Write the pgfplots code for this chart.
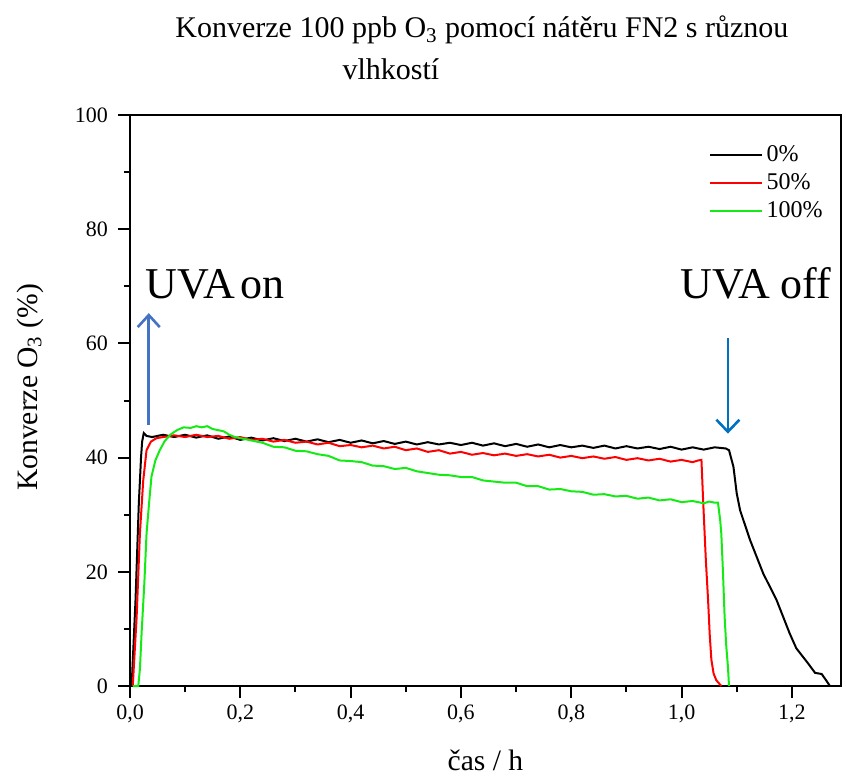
\documentclass[border=0pt]{standalone}
\usepackage{fontspec}
\setmainfont{Liberation Serif}
\usepackage{pgfplots}
\pgfplotsset{compat=1.18}
\usetikzlibrary{arrows.meta}
\definecolor{arrowA}{HTML}{4472C4}
\definecolor{arrowB}{HTML}{0070C0}
\definecolor{lgreen}{RGB}{20,235,20}

\begin{document}
\begin{tikzpicture}
\begin{axis}[
  name=ax,
  scale only axis,
  width=355.5pt,height=285.5pt,
  xmin=0,xmax=1.289,ymin=0,ymax=100,
  xtick={0,0.2,...,1.2},ytick={0,20,...,100},
  minor x tick num=1,minor y tick num=1,
  xtick pos=bottom,ytick pos=left,
  tick align=outside,
  major tick length=6pt,minor tick length=3pt,
  every tick/.style={black,line width=1pt},
  axis line style={line width=1pt},
  /pgf/number format/assume math mode=true,
  xticklabel style={/pgf/number format/.cd,use comma,fixed,fixed zerofill,precision=1},
  yticklabel style={xshift=-1.5pt},
  tick label style={font=\fontsize{11}{13}\selectfont},
  xlabel={čas / h},
  ylabel={Konverze O\textsubscript{3} (\%)},
  label style={font=\fontsize{14.8}{16}\selectfont},
  xlabel style={at={(rel axis cs:0.5,-0.148)},anchor=base},
  ylabel style={at={(rel axis cs:-0.1406,0.523)},anchor=center},
  clip=false,
  legend style={draw=none,fill=none,at={(rel axis cs:0.805,0.962)},anchor=north west,
    font=\fontsize{12}{13}\selectfont,row sep=0.6pt},
  legend cell align=left,
  legend image code/.code={\draw[#1] (0cm,0cm) -- (0.91cm,0cm);},
  every axis plot/.append style={line width=1pt}
]
% 0 %
\addplot[black] coordinates {
(0.003,0) (0.010,15) (0.016,32) (0.020,40) (0.022,42.8) (0.025,44.3) (0.030,43.8)
(0.04,43.6) (0.06,44.0) (0.08,43.6) (0.10,44.0) (0.12,43.5) (0.14,43.9) (0.16,43.3)
(0.18,43.7) (0.20,43.1) (0.22,43.5) (0.24,43.0) (0.26,43.4) (0.28,42.9) (0.30,43.3)
(0.32,42.8) (0.34,43.2) (0.36,42.7) (0.38,43.1) (0.40,42.6) (0.42,43.0) (0.44,42.5)
(0.46,42.9) (0.48,42.4) (0.50,42.8) (0.52,42.3) (0.54,42.7) (0.56,42.3) (0.58,42.6)
(0.60,42.2) (0.62,42.6) (0.64,42.1) (0.66,42.5) (0.68,42.0) (0.70,42.4) (0.72,41.9)
(0.74,42.3) (0.76,41.8) (0.78,42.2) (0.80,41.8) (0.82,42.1) (0.84,41.7) (0.86,42.1)
(0.88,41.6) (0.90,42.0) (0.92,41.6) (0.94,41.9) (0.96,41.5) (0.98,41.9) (1.00,41.4)
(1.02,41.8) (1.04,41.4) (1.06,41.8) (1.08,41.6) (1.086,41.3)
(1.094,38.4) (1.100,33.7) (1.106,30.8) (1.124,25.6) (1.148,19.7) (1.172,15.1)
(1.196,9.2) (1.208,6.6) (1.229,4.0) (1.242,2.3) (1.254,2.1) (1.262,1.0) (1.269,0)
};
\addlegendentry{0\%}
% 50 %
\addplot[red] coordinates {
(0.005,0) (0.012,12) (0.018,26.8) (0.024,36) (0.030,41.3) (0.038,42.8) (0.048,43.4)
(0.06,43.6) (0.08,43.9) (0.10,43.6) (0.12,44.0) (0.14,43.6) (0.16,43.8) (0.18,43.3)
(0.20,43.6) (0.22,43.1) (0.24,43.3) (0.26,42.8) (0.28,43.1) (0.30,42.6) (0.32,42.8)
(0.34,42.3) (0.36,42.6) (0.38,42.0) (0.40,42.2) (0.42,41.8) (0.44,42.1) (0.46,41.6)
(0.48,41.9) (0.50,41.3) (0.52,41.6) (0.54,41.0) (0.56,41.3) (0.58,40.7) (0.60,41.0)
(0.62,40.5) (0.64,40.8) (0.66,40.4) (0.68,40.7) (0.70,40.3) (0.72,40.6) (0.74,40.2)
(0.76,40.5) (0.78,40.0) (0.80,40.3) (0.82,39.9) (0.84,40.2) (0.86,39.8) (0.88,40.1)
(0.90,39.6) (0.92,39.9) (0.94,39.5) (0.96,39.8) (0.98,39.3) (1.00,39.6) (1.02,39.2)
(1.030,39.5) (1.036,39.6)
(1.039,32.6) (1.044,22) (1.048,15.1) (1.051,9) (1.054,4.6) (1.058,2.2) (1.063,1) (1.072,0)
};
\addlegendentry{50\%}
% 100 %
\addplot[lgreen] coordinates {
(0.005,0) (0.015,0) (0.018,3) (0.021,9.2) (0.026,18) (0.030,26.7) (0.035,32.5)
(0.039,36.7) (0.046,39.5) (0.054,41.3) (0.063,42.9) (0.073,44.0) (0.085,44.8) (0.097,45.3)
(0.11,45.2) (0.12,45.5) (0.13,45.3) (0.14,45.5) (0.15,45.0) (0.16,44.8) (0.17,44.6)
(0.18,44.0) (0.19,43.6) (0.20,43.4) (0.21,43.2) (0.22,43.0) (0.24,42.6) (0.26,41.9)
(0.28,41.8) (0.30,41.2) (0.32,41.1) (0.34,40.6) (0.36,40.3) (0.38,39.5) (0.40,39.4)
(0.42,39.2) (0.44,38.6) (0.46,38.5) (0.48,38.0) (0.50,38.2) (0.52,37.6) (0.54,37.3)
(0.56,37.0) (0.58,36.9) (0.60,36.6) (0.62,36.6) (0.64,36.0) (0.66,35.8) (0.68,35.6)
(0.70,35.6) (0.72,35.0) (0.74,35.0) (0.76,34.4) (0.78,34.5) (0.80,34.1) (0.82,34.0)
(0.84,33.5) (0.86,33.6) (0.88,33.2) (0.90,33.3) (0.92,32.8) (0.94,33.0) (0.96,32.5)
(0.98,32.7) (1.00,32.2) (1.02,32.4) (1.04,32.0) (1.05,32.3) (1.06,32.1) (1.066,32.1)
(1.070,29) (1.072,26.7) (1.075,20) (1.078,12.1) (1.081,7) (1.084,3.4) (1.086,0)
};
\addlegendentry{100\%}

\draw[arrowA,line width=1.3pt,-{Straight Barb[length=6pt,width=11pt]}]
  (axis cs:0.034,45.7) -- (axis cs:0.034,65.3);
\draw[arrowB,line width=1.3pt,-{Straight Barb[length=6pt,width=11.5pt]}]
  (axis cs:1.084,60.9) -- (axis cs:1.084,44.2);
\node[anchor=base west,inner sep=0pt,font=\fontsize{22}{24}\selectfont]
  at (axis cs:0.027,67.9) {UVA\hspace{0.12em}on};
\node[anchor=base west,inner sep=0pt,font=\fontsize{22}{24}\selectfont]
  at (axis cs:0.997,67.9) {UVA off};

\node[anchor=base,font=\fontsize{15}{17}\selectfont]
  at ([yshift=38.5pt]rel axis cs:0.495,1) {Konverze 100 ppb O\textsubscript{3} pomocí nátěru FN2 s různou};
\node[anchor=base,font=\fontsize{15}{17}\selectfont]
  at ([yshift=17.5pt]rel axis cs:0.367,1) {vlhkostí};
\end{axis}
\pgfresetboundingbox
\path ([xshift=-65pt,yshift=-45.5pt]ax.south west) rectangle ([xshift=2.5pt,yshift=57.5pt]ax.north east);
\end{tikzpicture}
\end{document}
